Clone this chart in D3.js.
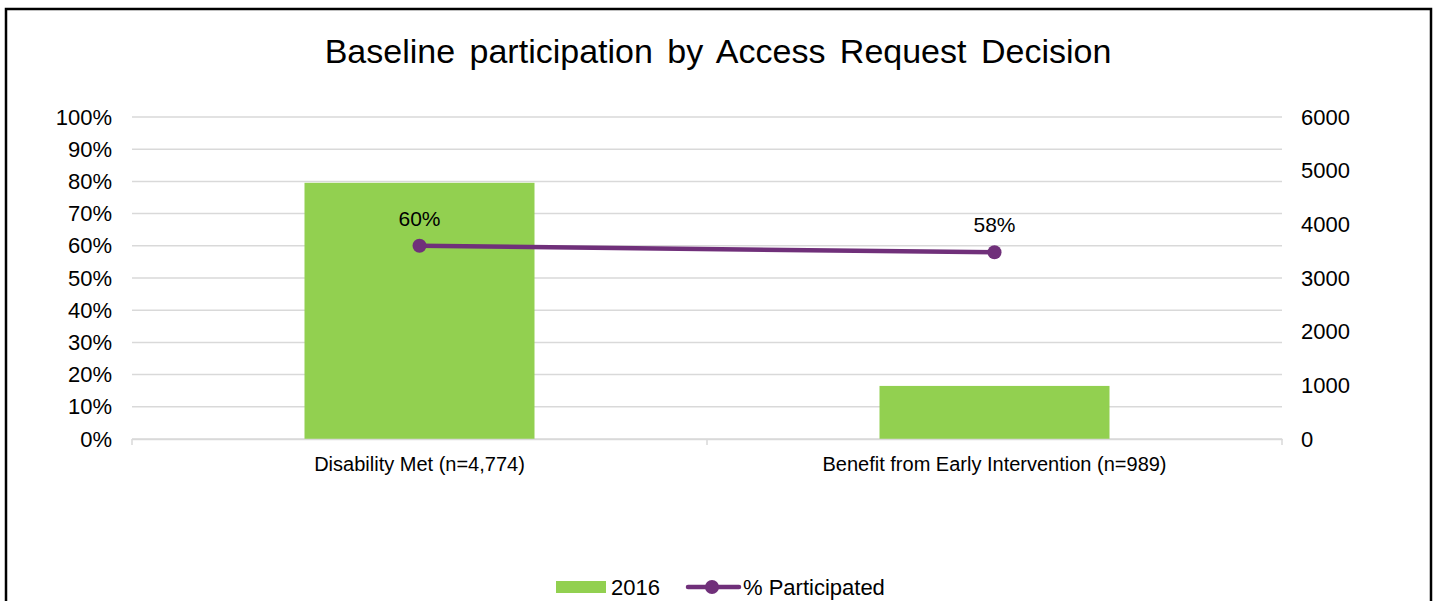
<!DOCTYPE html>
<html>
<head>
<meta charset="utf-8">
<script src="https://cdn.jsdelivr.net/npm/d3@7"></script>
<style>
  html, body { margin: 0; padding: 0; background: #fff; }
  svg { display: block; font-family: "Liberation Sans", Arial, sans-serif; }
</style>
</head>
<body>
<svg id="chart" width="1438" height="601"></svg>
<script>
// Chart data
const categories = ["Disability Met (n=4,774)", "Benefit from Early Intervention (n=989)"];
const counts2016 = [4774, 989];          // bars, right axis
const pctParticipated = [60, 58];        // line, left axis (%)
const leftTicks = [0, 10, 20, 30, 40, 50, 60, 70, 80, 90, 100];
const rightTicks = [0, 1000, 2000, 3000, 4000, 5000, 6000];
const title = "Baseline participation by Access Request Decision";
const legendLabels = ["2016", "% Participated"];

const svg = d3.select("#chart");
const plot = { left: 132, right: 1282, top: 117, bottom: 439 };
const FONT = "Liberation Sans, Arial, sans-serif";

const barColor = "#92d050";
const lineColor = "#70307a";
const gridColor = "#d9d9d9";

// Outer frame
svg.append("rect")
  .attr("x", 6).attr("y", 9)
  .attr("width", 1425).attr("height", 620)
  .attr("fill", "none").attr("stroke", "#000").attr("stroke-width", 2.5);

// Title
svg.append("text")
  .attr("x", 718).attr("y", 63)
  .attr("text-anchor", "middle")
  .attr("font-size", 34)
  .attr("word-spacing", 5)
  .attr("fill", "#000")
  .text(title);

// Scales
const x = d3.scaleBand().domain(categories).range([plot.left, plot.right]).padding(0);
const yL = d3.scaleLinear().domain([0, 100]).range([plot.bottom, plot.top]);
const yR = d3.scaleLinear().domain([0, 6000]).range([plot.bottom, plot.top]);

// Gridlines
svg.append("g").selectAll("line")
  .data(leftTicks)
  .join("line")
  .attr("x1", plot.left).attr("x2", plot.right)
  .attr("y1", d => yL(d)).attr("y2", d => yL(d))
  .attr("stroke", gridColor).attr("stroke-width", 1.5);

// Left axis (percent)
const leftAxis = d3.axisLeft(yL).tickValues(leftTicks).tickFormat(d => d + "%").tickSize(0).tickPadding(20);
const gL = svg.append("g").attr("transform", `translate(${plot.left},0)`).call(leftAxis);
gL.select(".domain").remove();
gL.selectAll("text").attr("font-size", 22).attr("fill", "#000").attr("font-family", FONT);

// Right axis (counts)
const rightAxis = d3.axisRight(yR).tickValues(rightTicks).tickFormat(d3.format("d")).tickSize(0).tickPadding(19);
const gR = svg.append("g").attr("transform", `translate(${plot.right},0)`).call(rightAxis);
gR.select(".domain").remove();
gR.selectAll("text").attr("font-size", 22).attr("fill", "#000").attr("font-family", FONT);

// Bars (right axis)
const barW = x.bandwidth() * 0.4;
svg.append("g").selectAll("rect")
  .data(categories)
  .join("rect")
  .attr("x", d => x(d) + (x.bandwidth() - barW) / 2)
  .attr("width", barW)
  .attr("y", (d, i) => yR(counts2016[i]))
  .attr("height", (d, i) => yR(0) - yR(counts2016[i]))
  .attr("fill", barColor);

// Category axis
const bottomAxis = d3.axisBottom(x).tickSize(0).tickPadding(18);
const gB = svg.append("g").attr("transform", `translate(0,${plot.bottom})`).call(bottomAxis);
gB.select(".domain").attr("stroke", gridColor).attr("stroke-width", 1.5);
gB.selectAll("text").attr("font-size", 20).attr("fill", "#000").attr("font-family", FONT);
// small tick marks at band boundaries
gB.selectAll("line.bound")
  .data([plot.left, x(categories[1]), plot.right])
  .join("line")
  .attr("class", "bound")
  .attr("x1", d => d).attr("x2", d => d)
  .attr("y1", 0).attr("y2", 6)
  .attr("stroke", gridColor).attr("stroke-width", 1.5);

// Line (left axis)
const cx = (d) => x(d) + x.bandwidth() / 2;
const lineGen = d3.line().x((d, i) => cx(categories[i])).y(d => yL(d));
svg.append("path")
  .datum(pctParticipated)
  .attr("d", lineGen)
  .attr("fill", "none")
  .attr("stroke", lineColor)
  .attr("stroke-width", 4.5)
  .attr("stroke-linecap", "round");

svg.append("g").selectAll("circle")
  .data(pctParticipated)
  .join("circle")
  .attr("cx", (d, i) => cx(categories[i]))
  .attr("cy", d => yL(d))
  .attr("r", 7)
  .attr("fill", lineColor);

// Data labels
svg.append("g").selectAll("text")
  .data(pctParticipated)
  .join("text")
  .attr("x", (d, i) => cx(categories[i]))
  .attr("y", d => yL(d) - 20)
  .attr("text-anchor", "middle")
  .attr("font-size", 21)
  .attr("fill", "#000")
  .text(d => d + "%");

// Legend
const leg = svg.append("g").attr("transform", "translate(0,587)");
leg.append("rect").attr("x", 556).attr("y", -6).attr("width", 50).attr("height", 12).attr("fill", barColor);
leg.append("text").attr("x", 611).attr("y", 8).attr("font-size", 22).attr("fill", "#000").text(legendLabels[0]);
leg.append("line").attr("x1", 688).attr("x2", 739).attr("y1", 0).attr("y2", 0)
  .attr("stroke", lineColor).attr("stroke-width", 4.5).attr("stroke-linecap", "round");
leg.append("circle").attr("cx", 712).attr("cy", 0).attr("r", 7).attr("fill", lineColor);
leg.append("text").attr("x", 743).attr("y", 8).attr("font-size", 22).attr("fill", "#000").text(legendLabels[1]);
</script>
</body>
</html>
